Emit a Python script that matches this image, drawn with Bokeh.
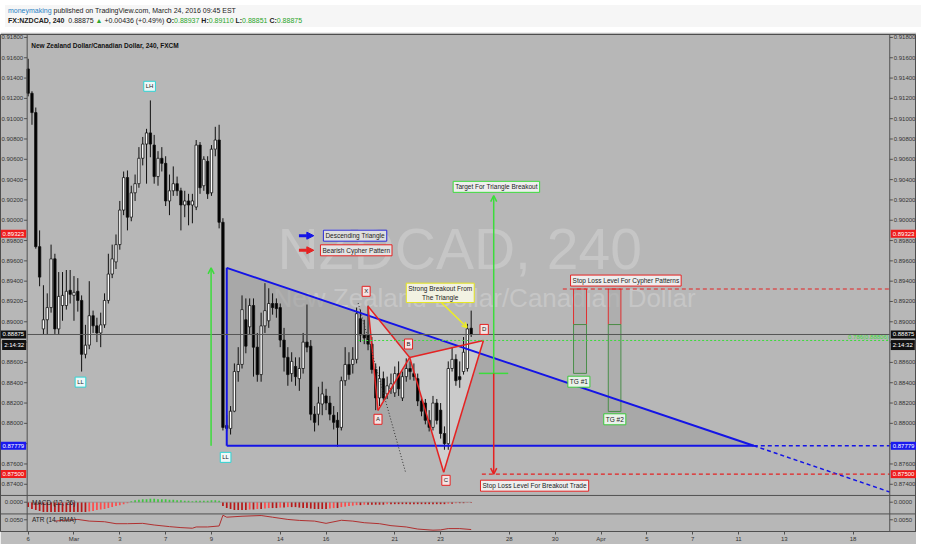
from bokeh.plotting import figure
from bokeh.models import (Range1d, FixedTicker, Label, Span,
                          Arrow, OpenHead, NormalHead, Div, ColumnDataSource)
from bokeh.layouts import column
from bokeh.core.properties import value
from bokeh.embed import file_html
from bokeh.resources import INLINE

FONT = "Liberation Sans"

# ---------------- header texts ----------------
publisher = "moneymaking"
pub_rest = " published on TradingView.com, March 24, 2016 09:45 EST"
symbol = "FX:NZDCAD, 240"
last_price = "0.88875"
change = "+0.00436 (+0.49%)"
ohlc_names = ["O:", "H:", "L:", "C:"]
ohlc_vals = ["0.88937", "0.89110", "0.88851", "0.88875"]
chart_title = "New Zealand Dollar/Canadian Dollar, 240, FXCM"
wm_main = "NZDCAD, 240"
wm_sub = "New Zealand Dollar/Canadian Dollar"

# ---------------- candles (4h bars) ----------------
opens = [0.9149, 0.9125, 0.9106, 0.8974, 0.8893, 0.8902, 0.8914, 0.8962, 0.8893, 0.8916,
         0.8916, 0.8931, 0.8926, 0.8930, 0.8921, 0.8868, 0.8877, 0.8906, 0.8896, 0.8889,
         0.8897, 0.8921, 0.8947, 0.8959, 0.8976, 0.9010, 0.9042, 0.9003, 0.9027, 0.9036,
         0.9061, 0.9075, 0.9086, 0.9074, 0.9043, 0.9061, 0.9056, 0.9019, 0.9029, 0.9036,
         0.9029, 0.9015, 0.9019, 0.9015, 0.9013, 0.9074, 0.9034, 0.9058, 0.9027, 0.9070,
         0.9079, 0.8998, 0.8798, 0.8795, 0.8812, 0.8851, 0.8858, 0.8902, 0.8895, 0.8916,
         0.8875, 0.8848, 0.8896, 0.8901, 0.8918, 0.8918, 0.8914, 0.8882, 0.8865, 0.8849,
         0.8856, 0.8844, 0.8854, 0.8880, 0.8876, 0.8809, 0.8809, 0.8819, 0.8827, 0.8820,
         0.8808, 0.8803, 0.8796, 0.8842, 0.8858, 0.8858, 0.8863, 0.8903, 0.8887, 0.8887,
         0.8878, 0.8853, 0.8825, 0.8844, 0.8829, 0.8834, 0.8830, 0.8849, 0.8825, 0.8846,
         0.8854, 0.8849, 0.8844, 0.8822, 0.8820, 0.8803, 0.8796, 0.8820, 0.8813, 0.8790,
         0.8780, 0.8854, 0.8863, 0.8846, 0.8851, 0.8854, 0.88937]
highs = [0.9159, 0.9127, 0.9111, 0.8990, 0.8936, 0.8928, 0.8976, 0.8967, 0.8949, 0.8949,
         0.8951, 0.8951, 0.8945, 0.8943, 0.8926, 0.8897, 0.8940, 0.8911, 0.8904, 0.8909,
         0.8928, 0.8967, 0.8976, 0.8986, 0.9019, 0.9048, 0.9049, 0.9034, 0.9045, 0.9072,
         0.9082, 0.9090, 0.9118, 0.9084, 0.9068, 0.9072, 0.9063, 0.9045, 0.9053, 0.9043,
         0.9032, 0.9029, 0.9026, 0.9026, 0.9079, 0.9077, 0.9063, 0.9063, 0.9074, 0.9092,
         0.9094, 0.9002, 0.8808, 0.8817, 0.8859, 0.8875, 0.8926, 0.8923, 0.8923, 0.8923,
         0.8889, 0.8909, 0.8938, 0.8933, 0.8928, 0.8923, 0.8918, 0.8894, 0.8875, 0.8870,
         0.8865, 0.8865, 0.8889, 0.8917, 0.8882, 0.8817, 0.8836, 0.8841, 0.8834, 0.8827,
         0.8817, 0.8811, 0.8846, 0.8875, 0.8870, 0.8875, 0.8914, 0.8912, 0.8902, 0.8916,
         0.8885, 0.8859, 0.8856, 0.8851, 0.8846, 0.8849, 0.8856, 0.8861, 0.8851, 0.8864,
         0.8861, 0.8859, 0.8849, 0.8827, 0.8824, 0.8813, 0.8827, 0.8824, 0.8820, 0.8797,
         0.8861, 0.8875, 0.8868, 0.8861, 0.8885, 0.8898, 0.89110]
lows = [0.9122, 0.9094, 0.8972, 0.8935, 0.8887, 0.8887, 0.8909, 0.8888, 0.8888, 0.8901,
        0.8912, 0.8918, 0.8901, 0.8910, 0.8851, 0.8864, 0.8873, 0.8889, 0.8880, 0.8875,
        0.8894, 0.8918, 0.8943, 0.8952, 0.8971, 0.9005, 0.8990, 0.8999, 0.9019, 0.9032,
        0.9054, 0.9036, 0.9062, 0.9036, 0.9034, 0.9048, 0.9014, 0.9005, 0.9024, 0.9024,
        0.8990, 0.9003, 0.8995, 0.8997, 0.9010, 0.9026, 0.9029, 0.9021, 0.9024, 0.9063,
        0.8992, 0.8793, 0.8792, 0.8789, 0.8811, 0.8841, 0.8854, 0.8869, 0.8888, 0.8846,
        0.8841, 0.8841, 0.8889, 0.8894, 0.8907, 0.8904, 0.8875, 0.8851, 0.8837, 0.8841,
        0.8837, 0.8832, 0.8849, 0.8870, 0.8803, 0.8792, 0.8798, 0.8808, 0.8813, 0.8803,
        0.8794, 0.8777, 0.8793, 0.8837, 0.8843, 0.8849, 0.8859, 0.8880, 0.8878, 0.8872,
        0.8849, 0.8813, 0.8817, 0.8822, 0.8824, 0.8829, 0.8826, 0.8827, 0.8822, 0.8841,
        0.8843, 0.8842, 0.8817, 0.8807, 0.8799, 0.8792, 0.8793, 0.8799, 0.8785, 0.8774,
        0.8774, 0.8851, 0.8837, 0.8835, 0.8848, 0.8851, 0.88851]
closes = [0.9125, 0.9106, 0.8974, 0.8944, 0.8902, 0.8914, 0.8962, 0.8893, 0.8925, 0.8926,
          0.8930, 0.8927, 0.8929, 0.8921, 0.8868, 0.8877, 0.8906, 0.8896, 0.8889, 0.8897,
          0.8921, 0.8947, 0.8962, 0.8976, 0.9010, 0.9042, 0.9003, 0.9027, 0.9036, 0.9061,
          0.9075, 0.9086, 0.9075, 0.9043, 0.9061, 0.9056, 0.9019, 0.9029, 0.9036, 0.9029,
          0.9015, 0.9019, 0.9015, 0.9019, 0.9074, 0.9032, 0.9060, 0.9026, 0.9070, 0.9079,
          0.8998, 0.8796, 0.8795, 0.8812, 0.8851, 0.8858, 0.8912, 0.8876, 0.8916, 0.8875,
          0.8848, 0.8896, 0.8911, 0.8918, 0.8914, 0.8913, 0.8882, 0.8865, 0.8848, 0.8861,
          0.8846, 0.8854, 0.8880, 0.8875, 0.8809, 0.8801, 0.8820, 0.8829, 0.8820, 0.8809,
          0.8801, 0.8796, 0.8842, 0.8858, 0.8848, 0.8863, 0.8908, 0.8887, 0.8884, 0.8878,
          0.8853, 0.8825, 0.8844, 0.8825, 0.8837, 0.8839, 0.8849, 0.8834, 0.8846, 0.8854,
          0.8851, 0.8846, 0.8822, 0.8812, 0.8803, 0.8796, 0.8820, 0.8803, 0.8790, 0.8780,
          0.8854, 0.8863, 0.8842, 0.8843, 0.8870, 0.8893, 0.88875]
bars = list(range(len(opens)))

# MACD(12,26) histogram, in units of 1e-4
macd_hist = [-6.5, -9.1, -10.4, -11.7, -13, -13, -13, -13, -13, -13,
             -13, -13, -13, -13, -13, -13, -12.4, -11.7, -10.4, -9.8,
             -9.1, -7.8, -6.5, -5.2, -3.9, -2.6, -1.3, 1.3, 2.6, 3.3,
             3.9, 3.9, 4.6, 4.6, 3.9, 3.9, 3.9, 3.3, 3.3, 2.6,
             2.6, 2.0, 2.0, 1.3, 2.0, 2.0, 2.0, 2.0, 2.6, 2.6,
             2.0, -5.2, -7.8, -9.1, -10.4, -10.4, -10.4, -10.4, -9.8, -9.8,
             -9.1, -9.1, -8.5, -7.8, -7.8, -7.8, -7.2, -7.2, -6.5, -6.5,
             -6.5, -7.2, -7.8, -7.8, -8.5, -9.1, -9.1, -9.1, -9.1, -8.5,
             -7.8, -7.8, -6.5, -5.9, -5.2, -4.6, -3.9, -3.9, -3.3, -3.3,
             -3.3, -3.3, -3.3, -3.3, -2.6, -2.6, -2.6, -2.6, -2.6, -2.6,
             -2.6, -2.6, -2.6, -2.6, -2.6, -2.6, -2.6, -2.6, -2.6, -2.6,
             -2.0, -2.0, -1.3, -1.3, -1.3, -0.7, -0.7]

# ATR(14, RMA)
atr_bars = [7, 9, 13, 16, 20, 23, 26, 30, 33, 37, 40, 43, 44, 47, 50, 51, 52, 56, 61, 64,
            68, 71, 75, 78, 82, 85, 88, 92, 95, 99, 102, 106, 108, 110, 113, 116]
atr_vals = [0.00473, 0.00487, 0.00507, 0.00473, 0.00460, 0.00420, 0.00420, 0.00427, 0.00393, 0.00360,
            0.00340, 0.00327, 0.00353, 0.00353, 0.00373, 0.00593, 0.00553, 0.00573, 0.00587, 0.00553,
            0.00507, 0.00487, 0.00473, 0.00427, 0.00490, 0.00473, 0.00440, 0.00420, 0.00380, 0.00353,
            0.00310, 0.00287, 0.00293, 0.00320, 0.00320, 0.00300]

# axes
price_ticks = [0.874, 0.876, 0.878, 0.880, 0.882, 0.884, 0.886, 0.888, 0.890, 0.892, 0.894,
               0.896, 0.898, 0.900, 0.902, 0.904, 0.906, 0.908, 0.910, 0.912, 0.914, 0.916, 0.918]
macd_tick_val, macd_tick_text = 0.0, "0.0000"
atr_tick_val, atr_tick_text = 0.005, "0.0050"
date_ticks = [0, 12, 24, 36, 48, 66, 78, 96, 108, 126, 138, 150, 162, 174, 186, 198, 216]
date_labels = ["6", "Mar", "3", "7", "9", "14", "16", "21", "23", "28", "30", "Apr", "5", "7",
               "11", "13", "18"]

# drawings
tri_x = [52, 52, 190]
tri_y = [0.89531, 0.87779, 0.87779]
tri_ext_x = [190, 225.6]
tri_ext_y = [0.87779, 0.87324]
cy_names = ["X", "A", "B", "C", "D"]
cy_x = [89.0, 91.6, 99.9, 108.8, 119.2]
cy_y = [0.89153, 0.88127, 0.88649, 0.87518, 0.88816]
cy_lab_x = [88.5, 91.6, 99.6, 109.4, 119.4]
cy_lab_y = [0.89300, 0.88040, 0.88781, 0.87439, 0.88925]
swing_names = ["LH", "LL", "LL"]
swing_x = [31.8, 13.7, 51.7]
swing_y = [0.91319, 0.88406, 0.87665]
stop_cypher = 0.89323
stop_breakout = 0.87500
entry_level = 0.88973
tg_levels = [0.88492, 0.88117]
tg_left = [142.8, 151.9]
tg_right = [146.2, 155.2]
tg_names = ["TG #1", "TG #2"]
tg_lab_x = [144.2, 153.6]
tg_lab_y = [0.88410, 0.88040]
fib_level = 0.88816
fib_text = "0.786(0.88806)"
breakout_base = 0.88492
target_top = 0.90242
tags = [(0.89867, "0.89323", "#ee1c1c"), (0.88875, "0.88875", "#111111"),
        (0.88771, "2:14:32", "#111111"), (0.87779, "0.87779", "#1a1aee"),
        (0.87500, "0.87500", "#ee1c1c")]

# ---------------- layout constants ----------------
x_lo, x_hi = -7.24, 232.6          # frame includes both price-scale strips
ax_left, ax_right = -0.26, 225.6    # price-scale separators
tick_len = 0.8                      # tick length in bar units (~3 px)
p_lo, p_hi = 0.86935, 0.91829
macd_lo, macd_hi = -39.0, 622.7
atr_lo, atr_hi = 0.0026, 0.1044
main_bottom = 0.87290
macd_bottom = 0.87108

p = figure(width=916, height=512, x_range=Range1d(x_lo, x_hi), y_range=Range1d(p_lo, p_hi),
           output_backend="svg", toolbar_location=None, y_axis_location=None,
           min_border_left=0, min_border_right=0, min_border_top=2, min_border_bottom=12,
           background_fill_color="#b7b7b7", border_fill_color="#bdbdbd",
           outline_line_color="#4d4d4d")
p.extra_y_ranges = {"macd": Range1d(macd_lo, macd_hi), "atr": Range1d(atr_lo, atr_hi)}
p.grid.visible = False

xa = p.xaxis[0]
xa.ticker = FixedTicker(ticks=date_ticks)
xa.major_label_overrides = dict(zip(date_ticks, date_labels))
xa.major_label_text_font = FONT
xa.major_label_text_font_size = "6px"
xa.major_label_text_color = "#333333"
xa.axis_line_color = "#505050"
xa.major_tick_line_color = "#505050"
xa.major_tick_out = 3
xa.major_tick_in = 0
xa.minor_tick_line_color = None
xa.major_label_standoff = 1

# watermark
p.text(x=[113], y=[0.89713], text=[wm_main], text_font=value(FONT), text_font_size="57px",
       text_color="#c6c6c6", text_align="center", text_baseline="middle")
p.text(x=[119.5], y=[0.89233], text=[wm_sub], text_font=value(FONT), text_font_size="26px",
       text_color="#c6c6c6", text_align="center", text_baseline="middle")

# triangle fill
p.patch(tri_x, tri_y, fill_color="#9c9c9c", fill_alpha=0.55, line_color=None)
# cypher fills
p.patch(cy_x[0:3], cy_y[0:3], fill_color="#e6e6e6", fill_alpha=0.55, line_color=None)
p.patch(cy_x[2:5], cy_y[2:5], fill_color="#e6e6e6", fill_alpha=0.55, line_color=None)

# TG boxes
p.quad(left=tg_left, right=tg_right, top=[stop_cypher] * 2, bottom=[entry_level] * 2,
       fill_color="#a8a8a8", fill_alpha=0.6, line_color="#e03030", line_width=1)
p.quad(left=tg_left, right=tg_right, top=[entry_level] * 2, bottom=tg_levels,
       fill_color="#a8a8a8", fill_alpha=0.6, line_color="#4a8f4a", line_width=1)

# candles
src = ColumnDataSource(dict(
    x=bars, o=opens, h=highs, l=lows, c=closes,
    top=[max(o, c) for o, c in zip(opens, closes)],
    bot=[min(o, c) for o, c in zip(opens, closes)],
    col=["#ffffff" if c >= o else "#000000" for o, c in zip(opens, closes)]))
p.segment(x0="x", y0="l", x1="x", y1="h", source=src, line_color="#111111", line_width=1)
p.vbar(x="x", width=0.62, top="top", bottom="bot", source=src, fill_color="col",
       line_color="#111111", line_width=0.8)

# MACD histogram
mcols = []
for i, v in enumerate(macd_hist):
    if v >= 0:
        mcols.append("#3cc83c")
    else:
        prev = macd_hist[i - 1] if i > 0 else 0
        mcols.append("#b81818" if v <= prev else "#ff4a4a")
p.vbar(x=bars, width=0.45, top=macd_hist, bottom=0, fill_color=mcols, line_color=None,
       y_range_name="macd")
p.line([ax_left, bars[-1]], [0, 0], line_color="#8a8a8a", line_width=0.6, y_range_name="macd")
# ATR line
p.line(atr_bars, atr_vals, line_color="#b03030", line_width=1, y_range_name="atr")

# ---------------- price scales (left and right strips) ----------------
for loc in [ax_left, ax_right]:
    p.add_layout(Span(location=loc, dimension="height", line_color="#505050", line_width=1))
tick_labels = [f"{t:.5f}" for t in price_ticks]
for side_x, al, off, tx0 in [(ax_left, "right", -4, ax_left - tick_len),
                             (ax_right, "left", 4, ax_right + tick_len)]:
    n = len(price_ticks)
    p.segment(x0=[side_x] * n, y0=price_ticks, x1=[tx0] * n, y1=price_ticks,
              line_color="#505050", line_width=1)
    p.text(x=[side_x] * n, y=price_ticks, text=tick_labels, x_offset=off,
           text_font=value(FONT), text_font_size="6px", text_color="#333333",
           text_align=al, text_baseline="middle")
    p.segment(x0=[side_x], y0=[macd_tick_val], x1=[tx0], y1=[macd_tick_val],
              line_color="#505050", y_range_name="macd")
    p.text(x=[side_x], y=[macd_tick_val], text=[macd_tick_text], x_offset=off,
           text_font=value(FONT), text_font_size="6px", text_color="#333333",
           text_align=al, text_baseline="middle", y_range_name="macd")
    p.segment(x0=[side_x], y0=[atr_tick_val], x1=[tx0], y1=[atr_tick_val],
              line_color="#505050", y_range_name="atr")
    p.text(x=[side_x], y=[atr_tick_val], text=[atr_tick_text], x_offset=off,
           text_font=value(FONT), text_font_size="6px", text_color="#333333",
           text_align=al, text_baseline="middle", y_range_name="atr")

# pane separators
p.add_layout(Span(location=main_bottom, dimension="width", line_color="#505050", line_width=1))
p.add_layout(Span(location=macd_bottom, dimension="width", line_color="#505050", line_width=1))

# descending triangle lines
BLUE = "#1414e6"
p.line([tri_x[0], tri_x[2]], [tri_y[0], tri_y[2]], line_color=BLUE, line_width=2)
p.line(tri_x[0:2], tri_y[0:2], line_color=BLUE, line_width=2)
p.line(tri_x[1:3], tri_y[1:3], line_color=BLUE, line_width=2)
p.line(tri_ext_x, tri_ext_y, line_color=BLUE, line_width=1.5, line_dash="4 3")
p.line(tri_ext_x, [tri_y[2]] * 2, line_color=BLUE, line_width=1.5, line_dash="4 3")

# cypher lines
RED = "#e52222"
for a, b in [(0, 1), (1, 2), (2, 0), (2, 3), (3, 4), (4, 2)]:
    p.line([cy_x[a], cy_x[b]], [cy_y[a], cy_y[b]], line_color=RED, line_width=1.5)

# dotted trend line
p.line([86.4, 98.8], [0.89185, 0.87521], line_color="#333333", line_width=1, line_dash="1 2")

# stop lines and fib level
p.line([140, ax_right], [stop_cypher] * 2, line_color=RED, line_width=1.2, line_dash="4 3")
p.line([118.8, ax_right], [stop_breakout] * 2, line_color=RED, line_width=1.2, line_dash="4 3")
GREEN = "#3cdc3c"
p.line([86.4, ax_right], [fib_level] * 2, line_color=GREEN, line_width=1, line_dash="2 2")
p.add_layout(Label(x=ax_right, y=fib_level, text=fib_text, text_align="right",
                   text_baseline="bottom", text_color=GREEN, text_font=FONT,
                   text_font_size="6px", x_offset=-1))

# last price line
p.line([ax_left, ax_right], [0.88875, 0.88875], line_color="#555555", line_width=1)

# breakout target / stop
p.line([118, 125.7], [breakout_base] * 2, line_color=GREEN, line_width=1.5)
p.add_layout(Arrow(x_start=121.9, y_start=breakout_base, x_end=121.9, y_end=target_top,
                   line_color=GREEN, line_width=1.5,
                   end=OpenHead(size=6, line_color=GREEN, line_width=1.5)))
p.add_layout(Arrow(x_start=121.9, y_start=breakout_base, x_end=121.9, y_end=stop_breakout,
                   line_color=RED, line_width=1.5,
                   end=OpenHead(size=6, line_color=RED, line_width=1.5)))
p.add_layout(Arrow(x_start=47.9, y_start=tri_y[1], x_end=47.9, y_end=tri_y[0],
                   line_color=GREEN, line_width=1.5,
                   end=OpenHead(size=6, line_color=GREEN, line_width=1.5)))
# yellow pointer
p.add_layout(Arrow(x_start=107.6, y_start=0.89213, x_end=114.9, y_end=0.88944,
                   line_color="#eeee22", line_width=1.5,
                   end=OpenHead(size=5, line_color="#eeee22", line_width=1.5)))
# legend arrows
p.add_layout(Arrow(x_start=70.9, y_start=0.89848, x_end=74.8, y_end=0.89848,
                   line_color=BLUE, line_width=3,
                   end=NormalHead(size=7, fill_color=BLUE, line_color=BLUE)))
p.add_layout(Arrow(x_start=70.9, y_start=0.89704, x_end=74.8, y_end=0.89704,
                   line_color=RED, line_width=3,
                   end=NormalHead(size=7, fill_color=RED, line_color=RED)))


def box(x, y, text, border, fill="#ececec", size="6.5px", color="#222222"):
    p.add_layout(Label(x=x, y=y, text=text, text_align="center", text_baseline="middle",
                       text_font=FONT, text_font_size=size, text_color=color,
                       background_fill_color=fill, background_fill_alpha=1.0,
                       border_line_color=border, border_line_width=1, padding=2))


box(85.6, 0.89848, "Descending Triangle", "#2a2ad8", "#dedede")
box(85.9, 0.89704, "Bearish Cypher Pattern", RED, "#e4e4e4")
box(122.6, 0.90329, "Target For Triangle Breakout", GREEN, "#eeeeee")
box(132.6, 0.87386, "Stop Loss Level For Breakout Trade", RED, "#eeeeee")
box(156.5, 0.89406, "Stop Loss Level For Cypher Patterns", RED, "#eeeeee")
box(107.9, 0.89285, "Strong Breakout From\nThe Triangle", "#e6e61e", "#f2f2e2")
for n, x, y in zip(tg_names, tg_lab_x, tg_lab_y):
    box(x, y, n, "#3cc83c", "#eaf2ea")
for n, x, y in zip(cy_names, cy_lab_x, cy_lab_y):
    box(x, y, n, RED, "#f4e4e4", "6px")
for n, x, y in zip(swing_names, swing_x, swing_y):
    box(x, y, n, "#2ed4d4", "#eef8f8", "6px")

# chart title & indicator names
p.add_layout(Label(x=0.8, y=0.91723, text=chart_title, text_font=FONT, text_font_size="6.5px",
                   text_font_style="bold", text_color="#111111", text_baseline="middle"))
p.add_layout(Label(x=1, y=0, y_range_name="macd", text="MACD (12, 26)", text_font=FONT,
                   text_font_size="6.5px", text_color="#222222", text_baseline="middle"))
p.add_layout(Label(x=1, y=0.0051, y_range_name="atr", text="ATR (14, RMA)", text_font=FONT,
                   text_font_size="6.5px", text_color="#222222", text_baseline="middle"))

# price tags on both price scales
for y, t, c in tags:
    for xx, al, off in [(ax_left, "right", -1), (ax_right, "left", 1)]:
        p.add_layout(Label(x=xx, y=y, text=t, text_align=al, text_baseline="middle",
                           x_offset=off, text_font=FONT, text_font_size="6px",
                           text_color="#ffffff", background_fill_color=c,
                           background_fill_alpha=1.0, padding=2))

ohlc_html = " ".join(f'<b>{n}</b><span style="color:#2aa52a">{v}</span>'
                     for n, v in zip(ohlc_names, ohlc_vals))
header_html = (
    '<div style="font-family:\'Liberation Sans\',sans-serif;font-size:7px;line-height:10px;'
    'color:#222;padding:1px 0 0 3px;">'
    f'<span style="color:#2a7fc4">{publisher}</span>{pub_rest}<br>'
    f'<b>{symbol}</b>&nbsp; {last_price} <span style="color:#2aa52a">&#9650;</span> '
    f'{change} {ohlc_html}</div>')
header = Div(text=header_html, width=916, height=22,
             styles={"background-color": "#f6f6f6"})

layout = column(header, p, spacing=0)
open("out.html", "w").write(file_html(layout, INLINE))
